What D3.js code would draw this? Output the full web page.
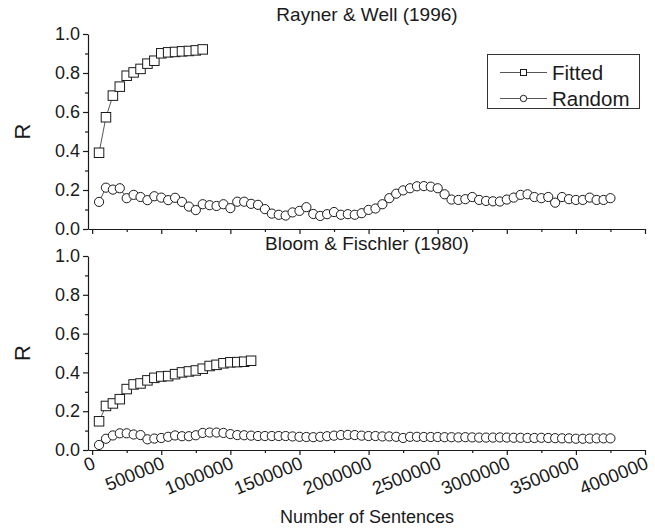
<!DOCTYPE html>
<html>
<head>
<meta charset="utf-8">
<script src="https://cdn.jsdelivr.net/npm/d3@7"></script>
<style>
  html, body { margin: 0; padding: 0; background: #fff; }
  svg { display: block; font-family: "Liberation Sans", Arial, sans-serif; }
</style>
</head>
<body>
<svg id="chart" width="655" height="528"></svg>
<script>
// Corpus sizes (number of sentences) at which R was measured
const sentences = [
  50000, 100000, 150000, 200000, 250000, 300000, 350000, 400000, 450000, 500000,
  550000, 600000, 650000, 700000, 750000, 800000, 850000, 900000, 950000, 1000000,
  1050000, 1100000, 1150000, 1200000, 1250000, 1300000, 1350000, 1400000, 1450000, 1500000,
  1550000, 1600000, 1650000, 1700000, 1750000, 1800000, 1850000, 1900000, 1950000, 2000000,
  2050000, 2100000, 2150000, 2200000, 2250000, 2300000, 2350000, 2400000, 2450000, 2500000,
  2550000, 2600000, 2650000, 2700000, 2750000, 2800000, 2850000, 2900000, 2950000, 3000000,
  3050000, 3100000, 3150000, 3200000, 3250000, 3300000, 3350000, 3400000, 3450000, 3500000,
  3550000, 3600000, 3650000, 3700000, 3750000
];

// Rayner & Well (1996)
const raynerFitted = [
  0.391, 0.573, 0.684, 0.730, 0.786, 0.803, 0.821, 0.848, 0.863, 0.901,
  0.906, 0.908, 0.911, 0.913, 0.916, 0.921
];
const raynerRandom = [
  0.139, 0.212, 0.202, 0.209, 0.158, 0.175, 0.164, 0.148, 0.168, 0.161,
  0.148, 0.160, 0.139, 0.115, 0.097, 0.127, 0.122, 0.118, 0.127, 0.107,
  0.140, 0.140, 0.129, 0.124, 0.102, 0.079, 0.073, 0.069, 0.085, 0.093,
  0.112, 0.077, 0.067, 0.076, 0.087, 0.073, 0.076, 0.073, 0.081, 0.098,
  0.105, 0.127, 0.158, 0.181, 0.198, 0.209, 0.219, 0.220, 0.217, 0.209,
  0.178, 0.151, 0.149, 0.153, 0.164, 0.149, 0.144, 0.142, 0.141, 0.151,
  0.161, 0.175, 0.178, 0.164, 0.158, 0.164, 0.135, 0.164, 0.153, 0.149,
  0.149, 0.161, 0.149, 0.149, 0.158
];

// Bloom & Fischler (1980)
const bloomFitted = [
  0.148, 0.227, 0.240, 0.262, 0.314, 0.338, 0.343, 0.359, 0.372, 0.379,
  0.381, 0.391, 0.400, 0.405, 0.410, 0.419, 0.433, 0.439, 0.447, 0.452,
  0.453, 0.455, 0.460
];
const bloomRandom = [
  0.026, 0.058, 0.075, 0.086, 0.086, 0.080, 0.077, 0.055, 0.059, 0.062,
  0.068, 0.075, 0.071, 0.071, 0.076, 0.088, 0.090, 0.090, 0.088, 0.082,
  0.077, 0.076, 0.074, 0.072, 0.072, 0.072, 0.072, 0.072, 0.070, 0.068,
  0.067, 0.066, 0.068, 0.071, 0.074, 0.077, 0.078, 0.077, 0.074, 0.072,
  0.072, 0.070, 0.070, 0.068, 0.062, 0.068, 0.068, 0.067, 0.067, 0.067,
  0.066, 0.066, 0.065, 0.066, 0.065, 0.064, 0.064, 0.064, 0.065, 0.064,
  0.063, 0.063, 0.062, 0.062, 0.063, 0.062, 0.061, 0.060, 0.060, 0.058,
  0.058, 0.059, 0.060, 0.060, 0.060
];

const yMajor = [0, 0.2, 0.4, 0.6, 0.8, 1.0];
const yMinor = [0.1, 0.3, 0.5, 0.7, 0.9];
const xMajor = [0, 500000, 1000000, 1500000, 2000000, 2500000, 3000000, 3500000, 4000000];
const xMinor = [250000, 750000, 1250000, 1750000, 2250000, 2750000, 3250000, 3750000];

const panels = [
  { title: "Rayner & Well (1996)", titleY: 21, fitted: raynerFitted, random: raynerRandom, top: 34, bottom: 229, xLabels: false, legend: true },
  { title: "Bloom & Fischler (1980)", titleY: 250, fitted: bloomFitted, random: bloomRandom, top: 256, bottom: 450, xLabels: true, legend: false }
];

const svg = d3.select("#chart");
const ink = "#1a1a1a";
const fontFam = "Liberation Sans, Arial, sans-serif";
const x = d3.scaleLinear().domain([-30000, 4000000]).range([88, 645]);

function squareMark(sel, size) {
  sel.append("rect")
    .attr("x", -size / 2).attr("y", -size / 2)
    .attr("width", size).attr("height", size)
    .attr("fill", "#fff").attr("stroke", ink).attr("stroke-width", 1);
}
function circleMark(sel, r) {
  sel.append("circle").attr("r", r)
    .attr("fill", "#fff").attr("stroke", ink).attr("stroke-width", 1);
}

panels.forEach(p => {
  const y = d3.scaleLinear().domain([0, 1]).range([p.bottom, p.top]);
  const g = svg.append("g");

  // y axis (major with labels, minor without)
  const yAx = g.append("g").attr("transform", `translate(${x.range()[0]},0)`)
    .call(d3.axisLeft(y).tickValues(yMajor).tickSize(5).tickSizeOuter(0).tickPadding(3).tickFormat(d3.format(".1f")));
  g.append("g").attr("transform", `translate(${x.range()[0]},0)`)
    .call(d3.axisLeft(y).tickValues(yMinor).tickSize(3).tickSizeOuter(0).tickFormat(""))
    .select(".domain").remove();
  yAx.selectAll("text").attr("font-size", 18).attr("fill", ink).attr("font-family", fontFam);

  // x axis
  const xAx = g.append("g").attr("transform", `translate(0,${p.bottom})`)
    .call(d3.axisBottom(x).tickValues(xMajor).tickSize(5).tickSizeOuter(0).tickFormat(p.xLabels ? d3.format("d") : ""));
  g.append("g").attr("transform", `translate(0,${p.bottom})`)
    .call(d3.axisBottom(x).tickValues(xMinor).tickSize(3).tickSizeOuter(0).tickFormat(""))
    .select(".domain").remove();
  if (p.xLabels) {
    xAx.selectAll(".tick text")
      .attr("font-size", 18.5).attr("fill", ink).attr("font-family", fontFam)
      .attr("text-anchor", "end")
      .attr("y", 0).attr("dy", 0)
      .attr("transform", "translate(4,18) rotate(-22)");
  }
  g.selectAll(".domain, .tick line").attr("stroke", ink).attr("stroke-width", 1.2);

  // axis title
  g.append("text")
    .attr("transform", `translate(30,${(p.top + p.bottom) / 2}) rotate(-90)`)
    .attr("text-anchor", "middle").attr("font-size", 22).attr("fill", ink)
    .text("R");

  // panel title
  g.append("text")
    .attr("x", 367).attr("y", p.titleY)
    .attr("text-anchor", "middle").attr("font-size", 19).attr("fill", ink)
    .text(p.title);

  const line = d3.line().x((d, i) => x(sentences[i])).y(d => y(d));

  // random series
  g.append("path").datum(p.random).attr("d", line)
    .attr("fill", "none").attr("stroke", "#444").attr("stroke-width", 0.9);
  g.selectAll(".rnd").data(p.random).join("g").attr("class", "rnd")
    .attr("transform", (d, i) => `translate(${x(sentences[i])},${y(d)})`)
    .each(function () { circleMark(d3.select(this), 4.6); });

  // fitted series
  g.append("path").datum(p.fitted).attr("d", line)
    .attr("fill", "none").attr("stroke", "#444").attr("stroke-width", 0.9);
  g.selectAll(".fit").data(p.fitted).join("g").attr("class", "fit")
    .attr("transform", (d, i) => `translate(${x(sentences[i])},${y(d)})`)
    .each(function () { squareMark(d3.select(this), 9.5); });

  if (p.legend) {
    const lg = g.append("g");
    lg.append("rect").attr("x", 487.5).attr("y", 54.5).attr("width", 152).attr("height", 54)
      .attr("fill", "#fff").attr("stroke", "#333").attr("stroke-width", 1);
    const items = [{ name: "Fitted", mark: squareMark, yy: 72.5 }, { name: "Random", mark: circleMark, yy: 98.5 }];
    items.forEach(it => {
      lg.append("line").attr("x1", 500).attr("x2", 547).attr("y1", it.yy).attr("y2", it.yy)
        .attr("stroke", "#444").attr("stroke-width", 0.9);
      const m = lg.append("g").attr("transform", `translate(523.5,${it.yy})`);
      it.mark(m, it.name === "Fitted" ? 6 : 3.2);
      lg.append("text").attr("x", 552).attr("y", it.yy).attr("dy", "0.35em")
        .attr("font-size", 20.5).attr("fill", ink).attr("font-family", fontFam).text(it.name);
    });
  }
});

// shared x axis title
svg.append("text")
  .attr("x", 367).attr("y", 523)
  .attr("text-anchor", "middle").attr("font-size", 18).attr("fill", ink)
  .text("Number of Sentences");
</script>
</body>
</html>
